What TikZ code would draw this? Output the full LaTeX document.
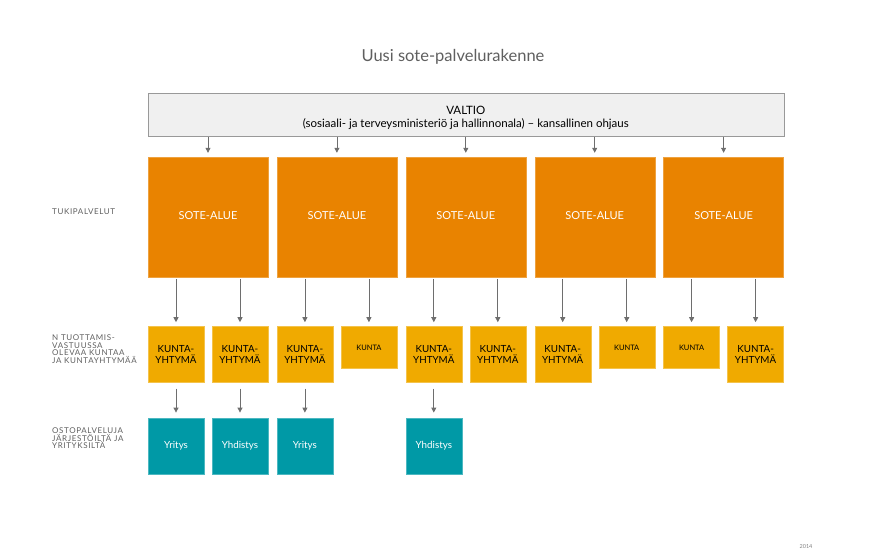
\documentclass[tikz,border=0pt]{standalone}
\usepackage{fontspec}
\setmainfont{Lato}
\newfontfamily\sidefont[LetterSpace=8]{Lato}
\usetikzlibrary{arrows.meta,positioning}

\definecolor{soteorange}{RGB}{233,131,0}
\definecolor{kuntayellow}{RGB}{240,170,0}
\definecolor{ostoteal}{RGB}{0,153,166}
\definecolor{valtiogray}{RGB}{240,240,240}
\definecolor{arrowgray}{RGB}{110,110,110}
\definecolor{labelgray}{RGB}{95,95,95}

\begin{document}
\begin{tikzpicture}[
  x=1pt, y=1pt,
  node distance=8.5pt,
  sote/.style={fill=soteorange, draw=soteorange!75!white, line width=0.4pt, minimum width=120pt, minimum height=120pt, inner sep=0pt, text=white, font=\fontsize{11}{13}\selectfont},
  ky/.style={fill=kuntayellow, draw=kuntayellow!70!white, line width=0.4pt, minimum width=56pt, minimum height=56pt, inner sep=0pt, align=center, font=\fontsize{9.8}{11}\selectfont},
  kunta/.style={ky, minimum height=42pt, font=\fontsize{7.5}{9}\selectfont},
  osto/.style={fill=ostoteal, draw=ostoteal!70!white, line width=0.4pt, minimum width=56pt, minimum height=56pt, inner sep=0pt, text=white, font=\fontsize{9.8}{11}\selectfont},
  sidelabel/.style={anchor=west, align=left, text=labelgray, font=\sidefont\fontsize{8}{7.4}\selectfont, inner sep=0pt},
  arr/.style={draw=arrowgray, line width=0.8pt, -{Triangle[width=5pt,length=5pt]}}
]
\useasboundingbox (0,0) rectangle (879,-556);

\node[text=labelgray, font=\fontsize{16.5}{19}\selectfont] (title) at (453,-57) {Uusi sote-palvelurakenne};

% sote-alueet
\node[sote] (sote1) at (208,-217) {\raisebox{3pt}{SOTE-ALUE}};
\node[sote, right=of sote1] (sote2) {\raisebox{3pt}{SOTE-ALUE}};
\node[sote, right=of sote2] (sote3) {\raisebox{3pt}{SOTE-ALUE}};
\node[sote, right=of sote3] (sote4) {\raisebox{3pt}{SOTE-ALUE}};
\node[sote, right=of sote4] (sote5) {\raisebox{3pt}{SOTE-ALUE}};

\node[above=20pt of sote3, fill=valtiogray, draw=gray!80, line width=0.6pt, minimum width=636pt, minimum height=43pt, font=\fontsize{11.5}{13}\selectfont] (valtio) {\raisebox{-6pt}[0pt][0pt]{\begin{tabular}{@{}c@{}}VALTIO\\(sosiaali- ja terveysministeriö ja hallinnonala) -- kansallinen ohjaus\end{tabular}}};

% kunnat ja kuntayhtymat
\node[ky, below right=49pt and 0pt of sote1.south west] (k1) {KUNTA-\\YHTYMÄ};
\node[ky, below left=49pt and 0pt of sote1.south east] (k2) {KUNTA-\\YHTYMÄ};
\node[ky, below right=49pt and 0pt of sote2.south west] (k3) {KUNTA-\\YHTYMÄ};
\node[kunta, below left=49pt and 0pt of sote2.south east] (k4) {KUNTA};
\node[ky, below right=49pt and 0pt of sote3.south west] (k5) {KUNTA-\\YHTYMÄ};
\node[ky, below left=49pt and 0pt of sote3.south east] (k6) {KUNTA-\\YHTYMÄ};
\node[ky, below right=49pt and 0pt of sote4.south west] (k7) {KUNTA-\\YHTYMÄ};
\node[kunta, below left=49pt and 0pt of sote4.south east] (k8) {KUNTA};
\node[kunta, below right=49pt and 0pt of sote5.south west] (k9) {KUNTA};
\node[ky, below left=49pt and 0pt of sote5.south east] (k10) {KUNTA-\\YHTYMÄ};

% ostopalvelut
\node[osto, below=35pt of k1] (o1) {Yritys};
\node[osto, below=35pt of k2] (o2) {Yhdistys};
\node[osto, below=35pt of k3] (o3) {Yritys};
\node[osto, below=35pt of k5] (o5) {Yhdistys};

% side labels
\node[sidelabel] (lbltuki) at (52,-212) {TUKIPALVELUT};
\node[sidelabel, anchor=north west] (lbltuotto) at (52,-335) {N TUOTTAMIS-\\VASTUUSSA\\OLEVAA KUNTAA\\JA KUNTAYHTYMÄÄ};
\node[sidelabel, anchor=north west] (lblosto) at (52,-428) {OSTOPALVELUJA\\JÄRJESTÖILTÄ JA\\YRITYKSILTÄ};

\node[text=gray, font=\fontsize{5.5}{6}\selectfont] (year) at (806,-547) {2014};

\draw[arr, shorten >=4pt] (valtio.south -| sote1) -- (sote1.north);
\draw[arr, shorten >=4pt] (valtio.south -| sote2) -- (sote2.north);
\draw[arr, shorten >=4pt] (valtio.south -| sote3) -- (sote3.north);
\draw[arr, shorten >=4pt] (valtio.south -| sote4) -- (sote4.north);
\draw[arr, shorten >=4pt] (valtio.south -| sote5) -- (sote5.north);

\draw[arr, shorten <=2pt, shorten >=4pt] (sote1.south -| k1) -- (k1.north);
\draw[arr, shorten <=2pt, shorten >=4pt] (sote1.south -| k2) -- (k2.north);
\draw[arr, shorten <=2pt, shorten >=4pt] (sote2.south -| k3) -- (k3.north);
\draw[arr, shorten <=2pt, shorten >=4pt] (sote2.south -| k4) -- (k4.north);
\draw[arr, shorten <=2pt, shorten >=4pt] (sote3.south -| k5) -- (k5.north);
\draw[arr, shorten <=2pt, shorten >=4pt] (sote3.south -| k6) -- (k6.north);
\draw[arr, shorten <=2pt, shorten >=4pt] (sote4.south -| k7) -- (k7.north);
\draw[arr, shorten <=2pt, shorten >=4pt] (sote4.south -| k8) -- (k8.north);
\draw[arr, shorten <=2pt, shorten >=4pt] (sote5.south -| k9) -- (k9.north);
\draw[arr, shorten <=2pt, shorten >=4pt] (sote5.south -| k10) -- (k10.north);

\draw[arr, shorten <=6pt, shorten >=5pt] (k1) -- (o1);
\draw[arr, shorten <=6pt, shorten >=5pt] (k2) -- (o2);
\draw[arr, shorten <=6pt, shorten >=5pt] (k3) -- (o3);
\draw[arr, shorten <=6pt, shorten >=5pt] (k5) -- (o5);

\end{tikzpicture}
\end{document}
